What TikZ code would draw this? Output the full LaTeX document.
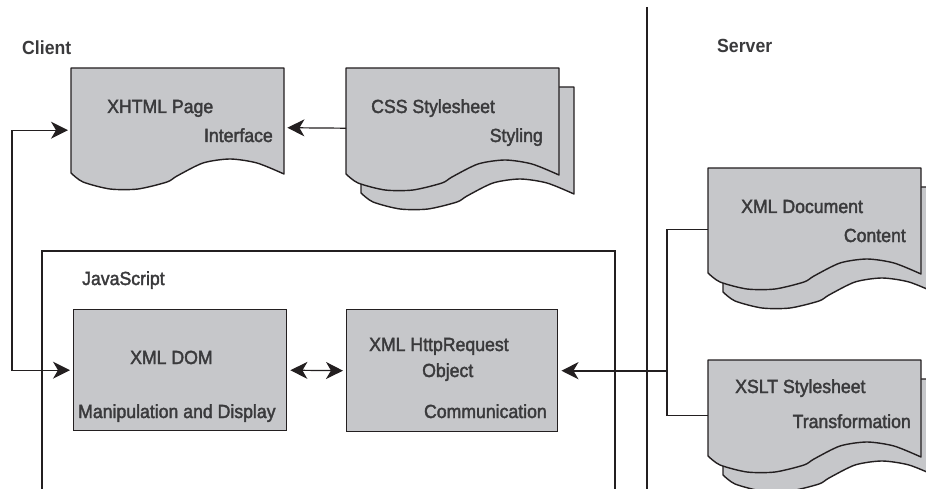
\documentclass[tikz,border=0pt]{standalone}
\usepackage{fontspec}
\setmainfont{Liberation Sans}[FakeStretch=0.93]
\newfontfamily\medfont{Liberation Sans}[FakeStretch=0.93,FakeBold=2]
\usetikzlibrary{arrows.meta,calc}
\definecolor{docfill}{HTML}{C6C7CA}
\definecolor{txt}{HTML}{3A3A3C}
\definecolor{ink}{HTML}{231F20}
\tikzset{
  docshape/.style={draw=ink,fill=docfill,line width=1.4pt,line join=round},
  boxshape/.style={draw=ink,fill=docfill,line width=1.4pt,minimum width=213pt,anchor=north west,inner sep=0pt},
  anchorbox/.style={anchor=north west,minimum width=213pt,inner sep=0pt},
  lbl/.style={text=txt,font=\medfont\fontsize{19}{21}\selectfont,inner sep=0pt},
  hdr/.style={text=txt,font=\fontsize{19}{21}\selectfont\bfseries,inner sep=0pt,anchor=base west},
  conn/.style={draw=ink,line width=1.2pt},
  thickconn/.style={draw=ink,line width=2pt},
  headend/.style={-{Stealth[length=17pt,width=17pt,inset=5pt]},shorten >=3pt},
  headboth/.style={{Stealth[length=17pt,width=17pt,inset=5pt]}-{Stealth[length=17pt,width=17pt,inset=5pt]},shorten >=3pt,shorten <=3pt},
}
% #1 x, #2 y (top-left), #3 height to left bottom corner
\newcommand\wavesheet[3]{%
  \begin{scope}[shift={(#1,#2)}]
    \filldraw[docshape] (0,0) -- (213,0) -- plot[smooth,tension=0.45] coordinates {
      (213,{#3+1}) (186,{#3-10}) (159,{#3-14}) (132,{#3-10}) (106,{#3+3})
      (96,{#3+9}) (67,{#3+16}) (39,{#3+16}) (12,{#3+9}) (0,{#3})} -- cycle;
  \end{scope}}
\begin{document}
\begin{tikzpicture}[x=1pt,y=-1pt]
\useasboundingbox (0,0) rectangle (926,489);

% section labels
\node[hdr] (client) at (22,55) {Client};
\node[hdr] (server) at (717,53) {Server};

% divider and JavaScript frame
\draw[conn] (647,7) -- (647,489);
\draw[conn] (42,489) -- (42,251) -- (615,251) -- (615,489);
\node[lbl,anchor=base west] (js) at (82,285) {JavaScript};

% XHTML page
\wavesheet{71}{68}{105}
\node[anchorbox,minimum height=105pt] (xhtml) at (71,68) {};
\node[lbl,anchor=base west] (xhtmlt) at (107,113) {XHTML Page};
\node[lbl,anchor=base east] (xhtmls) at (273,142) {Interface};

% CSS stylesheet (stacked)
\wavesheet{361}{87}{106}
\wavesheet{346}{68}{106}
\node[anchorbox,minimum height=106pt] (css) at (346,68) {};
\node[lbl,anchor=base west] (csst) at (371,113) {CSS Stylesheet};
\node[lbl,anchor=base east] (csss) at (543,142) {Styling};

% XML document (stacked)
\wavesheet{723}{187}{105}
\wavesheet{708}{168}{105}
\node[anchorbox,minimum height=105pt] (xmldoc) at (708,168) {};
\node[lbl,anchor=base west] (xmldoct) at (741,213) {XML Document};
\node[lbl,anchor=base east] (xmldocs) at (906,242) {Content};

% XSLT stylesheet (stacked)
\wavesheet{723}{379}{96}
\wavesheet{708}{360}{96}
\node[anchorbox,minimum height=96pt] (xslt) at (708,360) {};
\node[lbl,anchor=base west] (xsltt) at (735,393) {XSLT Stylesheet};
\node[lbl,anchor=base east] (xslts) at (911,428) {Transformation};

% XML DOM box
\node[boxshape,minimum height=121pt] (dom) at (73,309) {};
\node[lbl,anchor=base west] (domt) at (130,364) {XML DOM};
\node[lbl,anchor=base west] (doms) at (78,418) {Manipulation and Display};

% XMLHttpRequest box
\node[boxshape,minimum width=211pt,minimum height=122pt] (http) at (346,309) {};
\node[lbl,anchor=base west] (httpt) at (369,351) {XML HttpRequest};
\node[lbl,anchor=base west] (httpo) at (422,377) {Object};
\node[lbl,anchor=base east] (https) at (547,418) {Communication};

% connectors
\coordinate (lx) at (12,0);
\coordinate (sx) at (667,0);
\draw[conn,headboth] ([yshift=-9.5pt]xhtml.west) -| (lx |- dom.west) -- (dom.west);
\draw[conn,headend] ([yshift=-7pt]css.west) -- ([yshift=-7pt]xhtml.east);
\draw[conn,headboth] (dom.east) -- (http.west);
\coordinate (xa) at ([yshift=-8.5pt]xmldoc.west);
\coordinate (xb) at ([yshift=-7pt]xslt.west);
\draw[conn] (xa) -| (sx |- xb) -- (xb);
\draw[thickconn,headend] (sx |- http.east) -- (http.east);
\end{tikzpicture}
\end{document}
